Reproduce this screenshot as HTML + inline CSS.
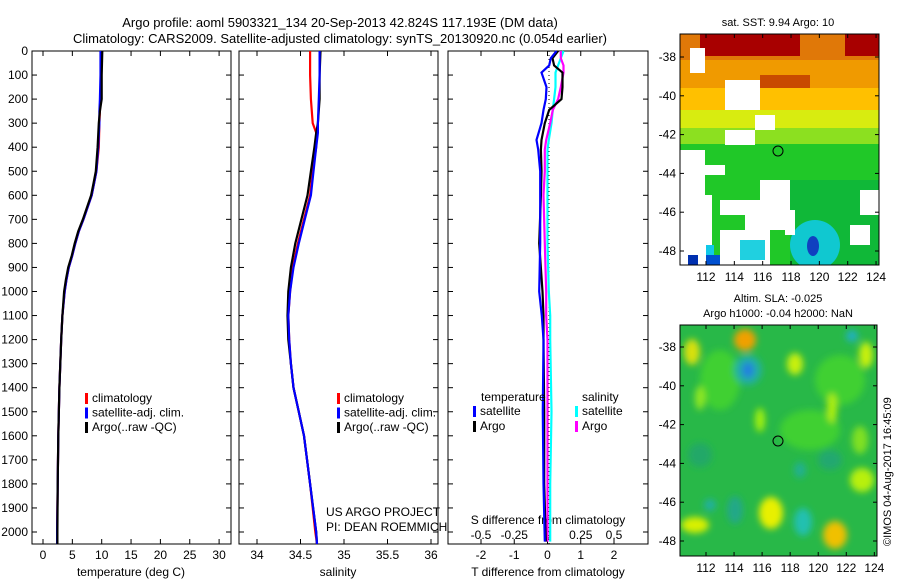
<!DOCTYPE html>
<html><head><meta charset="utf-8">
<style>
body{margin:0;background:#fff;}
svg{font-family:"Liberation Sans",sans-serif;font-size:12px;}
</style></head>
<body>
<svg id="fig" width="900" height="580" viewBox="0 0 900 580" xmlns="http://www.w3.org/2000/svg">
<defs>
<filter id="bl" x="-30%" y="-30%" width="160%" height="160%"><feGaussianBlur stdDeviation="3.5"/></filter>
<clipPath id="c1"><rect x="680" y="34" width="199" height="231"/></clipPath>
<clipPath id="c2"><rect x="680" y="325" width="197" height="231"/></clipPath>
</defs>
<text x="340" y="27" text-anchor="middle" font-size="13">Argo profile: aoml 5903321_134 20-Sep-2013 42.824S 117.193E (DM data)</text>
<text x="340" y="43" text-anchor="middle" font-size="13">Climatology: CARS2009. Satellite-adjusted climatology: synTS_20130920.nc (0.054d earlier)</text>

<!-- SST map -->
<g clip-path="url(#c1)">
<rect x="680" y="34" width="199" height="231" fill="#22c522"/>
<rect x="680" y="34" width="199" height="30" fill="#e07808"/>
<rect x="700" y="34" width="100" height="22" fill="#a80000"/>
<rect x="845" y="34" width="35" height="22" fill="#a80000"/>
<rect x="680" y="60" width="199" height="30" fill="#f09a00"/>
<rect x="760" y="75" width="50" height="20" fill="#c84a00"/>
<rect x="680" y="88" width="199" height="25" fill="#ffc000"/>
<rect x="680" y="110" width="199" height="22" fill="#d8ec10"/>
<rect x="680" y="128" width="199" height="18" fill="#8ce020"/>
<rect x="680" y="144" width="199" height="121" fill="#20c828"/>
<rect x="790" y="180" width="90" height="85" fill="#10b838"/>
<ellipse cx="815" cy="245" rx="25" ry="25" fill="#10c8d0"/>
<ellipse cx="813" cy="246" rx="6" ry="10" fill="#1040c0"/>
<rect x="690" y="48" width="15" height="25" fill="#fff"/>
<rect x="725" y="80" width="35" height="30" fill="#fff"/>
<rect x="680" y="150" width="25" height="115" fill="#fff"/>
<rect x="705" y="165" width="20" height="10" fill="#fff"/>
<rect x="700" y="195" width="12" height="70" fill="#fff"/>
<rect x="720" y="200" width="60" height="15" fill="#fff"/>
<rect x="760" y="180" width="30" height="35" fill="#fff"/>
<rect x="720" y="230" width="50" height="35" fill="#fff"/>
<rect x="745" y="215" width="45" height="15" fill="#fff"/>
<rect x="785" y="210" width="10" height="25" fill="#fff"/>
<rect x="755" y="115" width="20" height="15" fill="#fff"/>
<rect x="725" y="130" width="30" height="15" fill="#fff"/>
<rect x="850" y="225" width="20" height="20" fill="#fff"/>
<rect x="860" y="190" width="20" height="25" fill="#fff"/>
<rect x="688" y="255" width="10" height="10" fill="#0030b0"/>
<rect x="706" y="255" width="14" height="10" fill="#0050d0"/>
<rect x="706" y="245" width="8" height="10" fill="#10c8e8"/>
<rect x="740" y="240" width="25" height="20" fill="#20d0e0"/>
</g>
<rect x="680" y="34" width="199" height="231" fill="none" stroke="#000"/>
<circle cx="778" cy="151" r="5" fill="none" stroke="#000"/>
<text x="778" y="26" text-anchor="middle" font-size="11">sat. SST: 9.94  Argo: 10</text>

<!-- SLA map -->
<g clip-path="url(#c2)">
<rect x="680" y="325" width="197" height="231" fill="#28b848"/>
<g filter="url(#bl)">
<ellipse cx="720" cy="380" rx="20" ry="30" fill="#40d030"/>
<ellipse cx="810" cy="430" rx="30" ry="20" fill="#40d030"/>
<ellipse cx="840" cy="380" rx="25" ry="25" fill="#40d030"/>
<ellipse cx="745" cy="340" rx="11" ry="11" fill="#f0a000"/>
<ellipse cx="748" cy="370" rx="14" ry="15" fill="#20b0a0"/>
<ellipse cx="748" cy="370" rx="6" ry="8" fill="#2080e0"/>
<ellipse cx="692" cy="352" rx="8" ry="13" fill="#d8e010"/>
<ellipse cx="795" cy="364" rx="8" ry="11" fill="#c8f010"/>
<ellipse cx="866" cy="355" rx="7" ry="13" fill="#c8f010"/>
<ellipse cx="852" cy="336" rx="6" ry="6" fill="#20b0c0"/>
<ellipse cx="832" cy="408" rx="5" ry="15" fill="#b0f010"/>
<ellipse cx="760" cy="420" rx="5" ry="12" fill="#a0f010"/>
<ellipse cx="700" cy="398" rx="5" ry="12" fill="#90e820"/>
<ellipse cx="771" cy="513" rx="12" ry="16" fill="#e8f000"/>
<ellipse cx="803" cy="522" rx="9" ry="14" fill="#20c0b0"/>
<ellipse cx="835" cy="535" rx="12" ry="14" fill="#f0c000"/>
<ellipse cx="695" cy="525" rx="14" ry="8" fill="#d8f000"/>
<ellipse cx="735" cy="510" rx="8" ry="14" fill="#20a888"/>
<ellipse cx="710" cy="505" rx="6" ry="6" fill="#20b0a0"/>
<ellipse cx="800" cy="470" rx="6" ry="8" fill="#20b090"/>
<ellipse cx="700" cy="455" rx="12" ry="12" fill="#20a868"/>
<ellipse cx="862" cy="480" rx="12" ry="12" fill="#b8f010"/>
<ellipse cx="860" cy="440" rx="8" ry="14" fill="#80e020"/>
<ellipse cx="830" cy="460" rx="12" ry="10" fill="#20a870"/>
</g>
</g>
<rect x="680" y="325" width="197" height="231" fill="none" stroke="#000"/>
<circle cx="778" cy="441" r="5" fill="none" stroke="#000"/>
<text x="778" y="302" text-anchor="middle" font-size="11">Altim. SLA: -0.025</text>
<text x="778" y="317" text-anchor="middle" font-size="11">Argo h1000: -0.04  h2000: NaN</text>
<text transform="translate(891,546) rotate(-90)" font-size="11">©IMOS 04-Aug-2017 16:45:09</text>

<g id="plots"></g>
</svg>
<script>
// ---- data ----
const depthT = [0, 100, 200, 250, 300, 400, 500, 550, 600, 650, 700, 750, 800, 850, 900, 950, 1000, 1100, 1200, 1400, 1600, 1800, 2000, 2050];
const tempClim = [10.0, 9.9, 9.8, 9.7, 9.6, 9.5, 9.1, 8.7, 8.3, 7.6, 6.9, 6.1, 5.5, 5.0, 4.4, 4.0, 3.7, 3.3, 3.1, 2.8, 2.6, 2.5, 2.4, 2.4];
const tempSat  = [9.8, 9.8, 9.7, 9.6, 9.6, 9.4, 9.1, 8.7, 8.3, 7.6, 6.9, 6.1, 5.5, 5.0, 4.4, 4.0, 3.7, 3.3, 3.1, 2.8, 2.6, 2.5, 2.4, 2.4];
const tempArgo = [10.1, 10.0, 10.0, 9.7, 9.5, 9.3, 9.0, 8.6, 8.2, 7.5, 6.8, 6.0, 5.4, 4.9, 4.3, 3.9, 3.6, 3.3, 3.1, 2.8, 2.6, 2.5, 2.45, 2.45];
const depthS = [0, 100, 200, 300, 340, 400, 500, 600, 700, 800, 900, 1000, 1100, 1200, 1300, 1400, 1500, 1600, 1800, 2000, 2050];
const salClim = [34.61, 34.61, 34.62, 34.64, 34.68, 34.68, 34.64, 34.61, 34.54, 34.47, 34.41, 34.38, 34.36, 34.37, 34.39, 34.42, 34.48, 34.54, 34.61, 34.67, 34.69];
const salSat  = [34.72, 34.72, 34.71, 34.70, 34.70, 34.68, 34.65, 34.62, 34.55, 34.48, 34.42, 34.38, 34.36, 34.37, 34.39, 34.42, 34.48, 34.54, 34.61, 34.68, 34.69];
const salArgo = [34.73, 34.72, 34.72, 34.70, 34.68, 34.66, 34.62, 34.58, 34.51, 34.44, 34.39, 34.36, 34.35, 34.36, 34.39, 34.42, 34.48, 34.54, 34.61, 34.68, 34.69];
const depthD = [0, 30, 60, 90, 150, 200, 245, 300, 370, 410, 500, 600, 800, 1000, 1100, 1200, 1500, 1800, 2040];
const dTSat  = [0.27, 0.1, 0.05, -0.18, -0.03, -0.05, -0.12, -0.18, -0.33, -0.28, -0.22, -0.22, -0.22, -0.25, -0.17, -0.12, -0.14, -0.12, -0.08];
const dTArgo = [0.32, 0.15, 0.2, 0.45, 0.45, 0.42, 0.05, -0.08, -0.18, -0.2, -0.18, -0.2, -0.25, -0.15, -0.12, -0.12, -0.1, -0.1, -0.05];
const dSSat  = [0.12, 0.1, 0.08, 0.06, 0.06, 0.05, 0.04, 0.03, 0.01, 0.0, 0.0, 0.0, 0.0, 0.01, 0.02, 0.02, 0.03, 0.02, 0.02];
const dSArgo = [0.1, 0.1, 0.12, 0.12, 0.1, 0.08, 0.04, 0.02, -0.01, -0.02, -0.02, -0.03, -0.02, -0.01, -0.01, 0.0, 0.0, 0.0, 0.0];
const yTicks = [0,100,200,300,400,500,600,700,800,900,1000,1100,1200,1300,1400,1500,1600,1700,1800,1900,2000];
const tTicks = [0,5,10,15,20,25,30];
const sTicks = [34,34.5,35,35.5,36];
const dTTicks = [-2,-1,0,1,2];
const dSTicks = [-0.5,-0.25,0,0.25,0.5];
const dSTickLabels = ["-0.5","-0.25","0","0.25","0.5"];
const latTicks = [-38,-40,-42,-44,-46,-48];
const lonTicks = [112,114,116,118,120,122,124];

// ---- axes ----
const Y = d => 51 + d*0.2405;
const XT = t => 43 + t*5.87;
const XS = s => 257 + (s-34)*87;
const XDT = v => 547.5 + v*33.25;
const XDS = v => 547.5 + v*133;
const NS = "http://www.w3.org/2000/svg";
const G = document.getElementById('plots');
function mk(tag, attrs){const e=document.createElementNS(NS,tag);for(const k in attrs)e.setAttribute(k,attrs[k]);G.appendChild(e);return e;}
function txt(x,y,s,anchor,name){const e=mk('text',{x:x,y:y,'text-anchor':anchor||'middle'});e.textContent=s;


return e;}
function line(xs,ds,fx,col,name){
  let p='';
  for(let i=0;i<xs.length;i++){p+=(i?'L':'M')+fx(xs[i]).toFixed(1)+' '+Y(ds[i]).toFixed(1);}
  const e=mk('path',{d:p,fill:'none',stroke:col,'stroke-width':2.2});
  
  
}
function frame(x0,x1,name){
  const e=mk('rect',{x:x0,y:51,width:x1-x0,height:493,fill:'none',stroke:'#000'});
  
  
  yTicks.forEach(d=>{mk('line',{x1:x0,x2:x0+5,y1:Y(d),y2:Y(d),stroke:'#000'});mk('line',{x1:x1,x2:x1-5,y1:Y(d),y2:Y(d),stroke:'#000'});});
}
function xticks(vals,fx,labels,y,name){
  vals.forEach((v,i)=>{const x=fx(v);mk('line',{x1:x,x2:x,y1:51,y2:56,stroke:'#000'});mk('line',{x1:x,x2:x,y1:544,y2:539,stroke:'#000'});
  txt(x,y,labels?labels[i]:String(v),'middle',name);});
}
frame(32,231,'temperature-panel');
frame(239,438,'salinity-panel');
frame(448,648,'difference-panel');
yTicks.forEach(d=>txt(28,Y(d)+4,String(d),'end','depth-tick-label'));
xticks(tTicks,XT,null,559,'temperature-tick-label');
xticks(sTicks,XS,null,559,'salinity-tick-label');
xticks(dTTicks,XDT,["-2","-1","0","1","2"],559,'t-diff-tick-label');
dSTicks.forEach((v,i)=>txt(XDS(v),539,dSTickLabels[i],'middle','s-diff-tick-label'));
txt(131,576,'temperature (deg C)','middle','temperature-axis-title');
txt(338,576,'salinity','middle','salinity-axis-title');
txt(548,576,'T difference from climatology','middle','t-diff-axis-title');
txt(548,524,'S difference from climatology','middle','s-diff-axis-title');
const z=mk('line',{x1:549,x2:549,y1:51,y2:544,stroke:'#000','stroke-dasharray':'1 3'});



line(tempClim,depthT,XT,'#ff0000','temp-climatology-line');
line(tempSat,depthT,XT,'#0000ff','temp-satellite-line');
line(tempArgo,depthT,XT,'#000000','temp-argo-line');
line(salClim,depthS,XS,'#ff0000','sal-climatology-line');
line(salArgo,depthS,XS,'#000000','sal-argo-line');
line(salSat,depthS,XS,'#0000ff','sal-satellite-line');
line(dSSat,depthD,XDS,'#00ffff','s-diff-satellite-line');
line(dSArgo,depthD,XDS,'#ff00ff','s-diff-argo-line');
line(dTArgo,depthD,XDT,'#000000','t-diff-argo-line');
line(dTSat,depthD,XDT,'#0000ff','t-diff-satellite-line');

function leg(x,y,col,label,name){
  const r=mk('rect',{x:x,y:y-9,width:3,height:11,fill:col});
  
  
  txt(x+7,y,label,'start',name);
}
[[85,'climatology','#ff0000'],[85,'satellite-adj. clim.','#0000ff'],[85,"Argo(..raw -QC)",'#000000']].forEach((a,i)=>leg(a[0],402+i*14.5,a[2],a[1],'legend-entry'));
[[337,'climatology','#ff0000'],[337,'satellite-adj. clim.','#0000ff'],[337,"Argo(..raw -QC)",'#000000']].forEach((a,i)=>leg(a[0],402+i*14.5,a[2],a[1],'legend-entry'));
txt(481,401,'temperature','start','legend-temperature-header');
txt(582,401,'salinity','start','legend-salinity-header');
leg(473,415,'#0000ff','satellite','legend-entry');
leg(473,430,'#000000','Argo','legend-entry');
leg(575,415,'#00ffff','satellite','legend-entry');
leg(575,430,'#ff00ff','Argo','legend-entry');
txt(326,516,'US ARGO PROJECT','start','project-credit');
txt(326,531,'PI: DEAN ROEMMICH','start','pi-credit');

// map axes
function mapAxes(top,bot,x0,x1,latY,name){
  latTicks.forEach(l=>{const y=latY(l);mk('line',{x1:x0,x2:x0+4,y1:y,y2:y,stroke:'#000'});mk('line',{x1:x1,x2:x1-4,y1:y,y2:y,stroke:'#000'});
  txt(x0-4,y+4,String(l),'end',name+'-lat-label');});
  lonTicks.forEach(l=>{const x=706+(l-112)*14.17*(x1-x0)/199;mk('line',{x1:x,x2:x,y1:bot,y2:bot-4,stroke:'#000'});mk('line',{x1:x,x2:x,y1:top,y2:top+4,stroke:'#000'});
  txt(x,bot+16,String(l),'middle',name+'-lon-label');});
}
mapAxes(34,265,680,879,l=>57+(-38-l)*19.4,'sst-map');
mapAxes(325,556,680,877,l=>347+(-38-l)*19.4,'sla-map');
</script>
</body></html>
